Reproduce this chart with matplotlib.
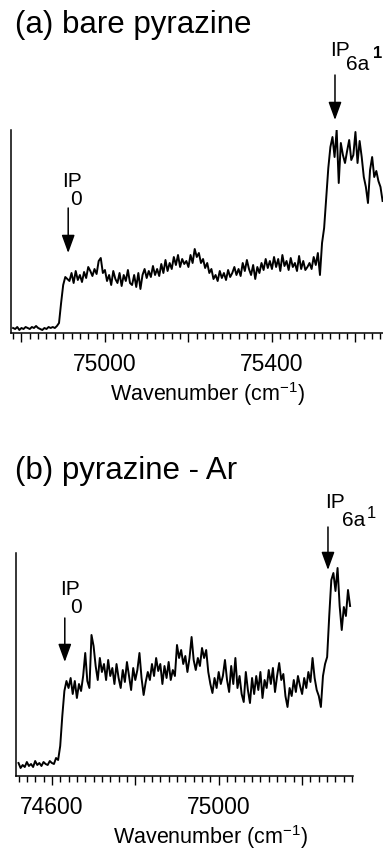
import numpy as np
import matplotlib
matplotlib.use('Agg')
from matplotlib import pyplot as plt
from matplotlib.ticker import MultipleLocator, FixedLocator, FixedFormatter

plt.rc('font', family='Liberation Sans')
plt.rcParams['mathtext.fontset'] = 'custom'
plt.rcParams['mathtext.rm'] = 'Liberation Sans'
plt.rcParams['mathtext.it'] = 'Liberation Sans:italic'
plt.rcParams['mathtext.bf'] = 'Liberation Sans:bold'

#   Data (arbitrary intensity)
# (a) bare pyrazine, sampled every 5 cm-1 from 74780 to 75665
wn_a_start, wn_a_stop, wn_a_step = 74780, 75665, 5
sig_a = [5, 4, 6, 3, 5, 4, 6, 5, 4, 6, 5, 7, 5, 4, 3, 5, 4, 6, 5, 6, 5, 7,
         10, 30, 48, 56, 54,
         52, 60, 50, 62, 53, 58, 51, 61, 55, 66, 62, 57, 64, 59, 72, 75, 60,
         63, 52, 58, 48, 62, 54, 50, 60, 47, 58, 52, 63, 50,
         48, 58, 46, 60, 44, 58, 64, 55,
         62, 56, 67, 58, 64, 57, 69, 60, 73, 62, 70, 64, 76, 68, 78, 66, 74, 69, 72, 66, 78, 70, 84,
         76, 80, 70, 74, 65, 70, 60, 64, 54, 58, 52, 62, 55, 60, 53, 63, 56,
         60, 66, 58, 64, 57, 70, 62, 73, 64, 58, 68, 54, 66, 60, 70, 63, 74, 65, 72, 64,
         76, 66, 74, 62, 78, 67, 72, 63, 75, 66, 70, 62, 77, 64, 72, 63, 66, 70, 64, 76,
         68, 80, 58,
         90, 105, 135, 165,
         186, 196, 176, 203, 150, 190, 178, 170, 182, 193, 173, 178, 201, 170, 192, 176,
         156, 146, 130, 163, 176, 156, 162, 152, 146, 132]

# (b) pyrazine-Ar, sampled every 5 cm-1 from 74520 to 75315
wn_b_start, wn_b_stop, wn_b_step = 74520, 75315, 5
sig_b = [13, 8, 11, 9, 14, 10, 12, 9, 15, 11, 13, 10, 14, 12, 11, 15, 13, 12, 18, 16,
         30, 60, 85, 95,
         88, 98, 82, 95, 78, 92, 85, 100, 123, 95, 88, 141, 130, 110, 96, 118,
         104, 112, 96, 116, 100, 108, 92, 112, 98, 88, 106, 94, 114, 100, 86, 108, 96,
         106, 123, 98, 81, 94, 104, 96, 112, 100, 118, 105, 112, 92, 110, 98, 114, 96, 106, 100,
         131, 118, 126, 112, 120, 104, 118, 139, 116, 106, 118, 110, 128, 118, 126, 104, 92, 83,
         98, 88, 104, 92, 100, 116, 96, 84, 110, 92, 118, 88, 100, 82, 74, 104, 86, 73, 98,
         82, 100, 86, 104, 78, 96, 88, 106, 92, 108, 84, 100, 113, 96, 102, 80, 69,
         88, 80, 96, 84, 100, 90, 82, 98, 88, 104, 94, 118, 98, 86, 80, 69,
         100, 112, 119, 160, 196, 203, 185, 208, 170, 146, 169, 160, 186, 170]

wn_a = np.arange(wn_a_start, wn_a_stop + 1, wn_a_step)
wn_b = np.arange(wn_b_start, wn_b_stop + 1, wn_b_step)

# ionization thresholds marked with arrows
ip0_a, ip6a_a = 74912, 75551
ip0_b, ip6a_b = 74631, 75262

W, H = 383, 852
fig = plt.figure(figsize=(W / 100, H / 100), dpi=100)


def px_axes(l, r, t, b):
    return fig.add_axes([l / W, 1 - b / H, (r - l) / W, (b - t) / H])


def style(ax, majors, labels):
    ax.spines['right'].set_visible(False)
    ax.spines['top'].set_visible(False)
    ax.spines['left'].set_linewidth(1.1)
    ax.spines['bottom'].set_linewidth(1.1)
    ax.set_yticks([])
    ax.xaxis.set_major_locator(FixedLocator(majors))
    ax.xaxis.set_major_formatter(FixedFormatter(labels))
    ax.xaxis.set_minor_locator(MultipleLocator(20))
    ax.tick_params(axis='x', which='major', direction='out', length=6.5, width=1.0,
                   pad=8, labelsize=16.5)
    ax.tick_params(axis='x', which='minor', direction='out', length=4, width=1.0)
    ax.set_xlabel(r'Wavenumber (cm$^{-1}$)', fontsize=15.5)
    ax.xaxis.label.set_va('center')


def ip_label(ax, x, tip, tail, sub, sup=None, ip_off=(-6, 21), sub_off=(2, 3),
             sup_off=(38, 18), sup_bold=False):
    ax.annotate('', xy=(x, tip), xytext=(x, tail), annotation_clip=False,
                arrowprops=dict(arrowstyle='-|>,head_length=0.55,head_width=0.2',
                                mutation_scale=20, lw=1.1, color='k',
                                shrinkA=0, shrinkB=0))
    ax.annotate('IP', xy=(x, tail), xytext=ip_off, textcoords='offset pixels',
                fontsize=15, ha='left', va='baseline', annotation_clip=False)
    ax.annotate(sub, xy=(x, tail), xytext=sub_off, textcoords='offset pixels',
                fontsize=15, ha='left', va='baseline', annotation_clip=False)
    if sup is not None:
        ax.annotate(sup, xy=(x, tail), xytext=sup_off, textcoords='offset pixels',
                    fontsize=12, fontweight='bold' if sup_bold else 'normal',
                    ha='left', va='baseline', annotation_clip=False)


# (a)
ax1 = px_axes(11, 383, 130, 333)
ax1.plot(wn_a, sig_a, color='k', lw=1.4)
ax1.set_xlim(74775, 75666)
ax1.set_ylim(0, 203)
style(ax1, [74800, 75000, 75200, 75400, 75600], ['', '75000', '', '75400', ''])
ax1.xaxis.set_label_coords((208 - 11) / 372, (333 - 394) / 203)
ip_label(ax1, ip0_a, 80, 125, '0', ip_off=(-6, 21), sub_off=(2, 3))
ip_label(ax1, ip6a_a, 213, 258, '6a', '1', ip_off=(-5, 19), sub_off=(11, 5),
         sup_off=(38, 17), sup_bold=True)
fig.text(15 / W, 1 - 33 / H, '(a) bare pyrazine', fontsize=22.5, ha='left', va='baseline')

# (b)
ax2 = px_axes(16, 353, 553, 776)
ax2.plot(wn_b, sig_b, color='k', lw=1.4)
ax2.set_xlim(74514, 75322)
ax2.set_ylim(0, 223)
style(ax2, [74600, 74800, 75000, 75200], ['74600', '', '75000', ''])
ax2.xaxis.set_label_coords((211 - 16) / 337, (776 - 837) / 223)
ip_label(ax2, ip0_b, 114, 158, '0', ip_off=(-5, 23), sub_off=(5, 5))
ip_label(ax2, ip6a_b, 206, 249, '6a', '1', ip_off=(-3, 19), sub_off=(14, 1),
         sup_off=(39, 9))
fig.text(15 / W, 1 - 479 / H, '(b) pyrazine - Ar', fontsize=22.5, ha='left', va='baseline')

fig.savefig('out.png', dpi=100)
